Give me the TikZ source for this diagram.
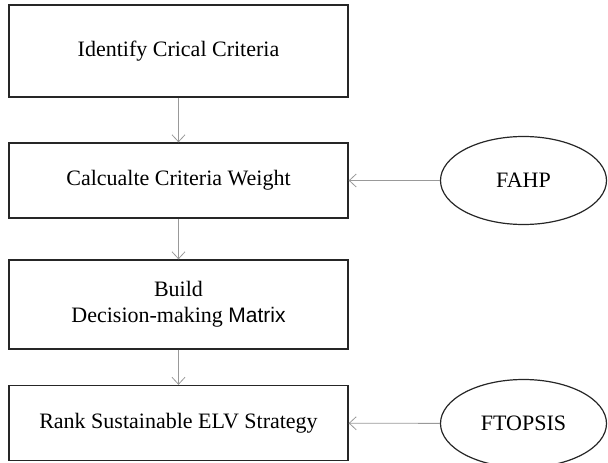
\documentclass[tikz,border=0pt]{standalone}
\usepackage{fontspec}
\setmainfont{Liberation Serif}
\newfontfamily\arialf{Liberation Sans}
\usetikzlibrary{shapes.geometric,arrows.meta}
\begin{document}
\begin{tikzpicture}[x=1pt,y=-1pt,
  stepbox/.style={draw=black!85,line width=1.3pt,minimum width=339pt,inner sep=0pt,font=\fontsize{22}{26}\selectfont,align=center},
  oval/.style={ellipse,draw=black!85,line width=1.2pt,minimum width=166pt,minimum height=88pt,inner sep=0pt,font=\fontsize{22}{26}\selectfont},
  conn/.style={draw=black!40,line width=0.8pt,-{Straight Barb[length=7pt,width=13pt]}}]
\useasboundingbox (0,0) rectangle (608,463);
\node[stepbox,minimum height=92pt] (s1) at (178.5,51) {Identify Crical Criteria};
\node[stepbox,minimum height=75pt] (s2) at (178.5,180.5) {Calcualte Criteria Weight};
\node[stepbox,minimum height=89pt] (s3) at (178.5,304.5) {Build\\Decision-making {\arialf\fontsize{21}{26}\selectfont Matrix}};
\node[stepbox,minimum height=75pt] (s4) at (178.5,423) {Rank Sustainable ELV Strategy};
\node[oval] (f1) at (523.5,180.5) {FAHP};
\node[oval] (f2) at (523.5,423.5) {FTOPSIS};
\draw[conn] (s1) -- (s2);
\draw[conn] (s2) -- (s3);
\draw[conn] (s3) -- (s4);
\draw[conn] (f1) -- (s2);
\draw[conn] (f2) -- (s4);
\end{tikzpicture}
\end{document}
